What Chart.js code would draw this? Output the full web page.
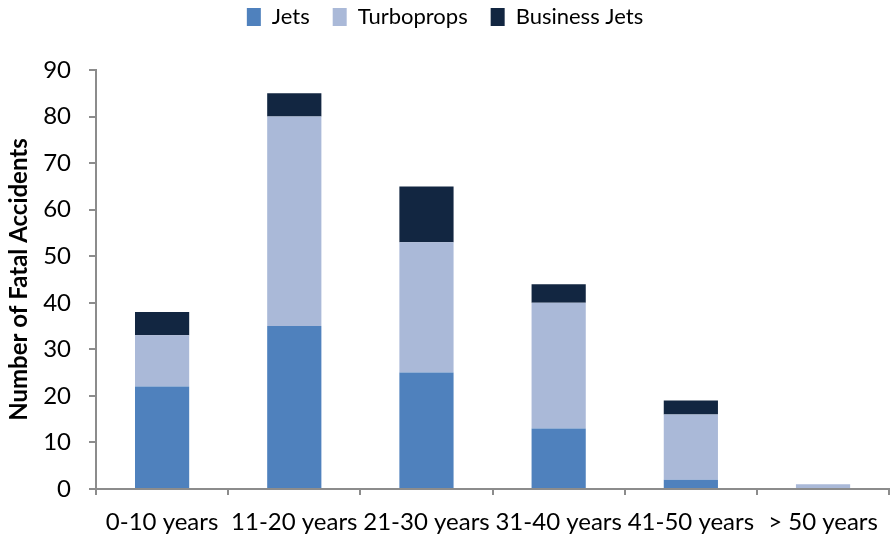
<!DOCTYPE html>
<html>
<head>
<meta charset="utf-8">
<script src="https://cdn.jsdelivr.net/npm/chart.js@4"></script>
<style>
  html, body { margin: 0; padding: 0; background: #fff; }
  #wrap { width: 891px; height: 538px; }
</style>
</head>
<body>
<div id="wrap"><canvas id="chart" width="891" height="538"></canvas></div>
<script>
// categorias (idade da aeronave)
const ageGroups = ['0-10 years', '11-20 years', '21-30 years', '31-40 years', '41-50 years', '> 50 years'];

// valores
const jets = [22, 35, 25, 13, 2, 0];
const turboprops = [11, 45, 28, 27, 14, 1];
const businessJets = [5, 5, 12, 4, 3, 0];

const yTicks = [0, 10, 20, 30, 40, 50, 60, 70, 80, 90];

const FONT = 'Lato, "Open Sans", sans-serif';
const axisGray = '#8c8c8c';

// força a altura da legenda para posicionar a área do gráfico
const legendHeight = {
  id: 'legendHeight',
  beforeInit(chart) {
    const fit = chart.legend.fit;
    chart.legend.fit = function () {
      fit.call(this);
      this.height = 87;
    };
  }
};

const ctx = document.getElementById('chart').getContext('2d');
new Chart(ctx, {
  type: 'bar',
  data: {
    labels: ageGroups,
    datasets: [
      { label: 'Jets', data: jets, backgroundColor: '#4f81bd' },
      { label: 'Turboprops', data: turboprops, backgroundColor: '#aab9d8' },
      { label: 'Business Jets', data: businessJets, backgroundColor: '#122641' }
    ]
  },
  options: {
    responsive: false,
    animation: false,
    layout: { padding: { top: -17, right: 1, bottom: 0, left: 0 } },
    datasets: {
      bar: { categoryPercentage: 1, barPercentage: 0.41, borderWidth: 0 }
    },
    plugins: {
      legend: {
        position: 'top',
        labels: {
          boxWidth: 14,
          boxHeight: 18,
          padding: 23,
          color: '#000',
          font: { family: FONT, size: 22 }
        }
      },
      tooltip: { enabled: false }
    },
    scales: {
      x: {
        stacked: true,
        grid: { drawOnChartArea: false, color: axisGray, tickLength: 6, lineWidth: 2, offset: true },
        border: { color: axisGray, width: 2 },
        ticks: { color: '#000', font: { family: FONT, size: 24 }, padding: 13, maxRotation: 0 },
        afterFit: (scale) => { scale.height = 49; }
      },
      y: {
        stacked: true,
        min: 0,
        max: 90,
        afterBuildTicks: (scale) => { scale.ticks = yTicks.map(v => ({ value: v })); },
        grid: { drawOnChartArea: false, color: axisGray, tickLength: 7, lineWidth: 2 },
        border: { color: axisGray, width: 2 },
        ticks: { color: '#000', font: { family: FONT, size: 24 }, padding: 18 },
        title: {
          display: true,
          text: 'Number of Fatal Accidents',
          color: '#000',
          font: { family: FONT, size: 24, weight: 'bold' },
          padding: { top: 5, bottom: 1 }
        },
        afterFit: (scale) => { scale.width = 96; }
      }
    }
  },
  plugins: [legendHeight]
});
</script>
</body>
</html>
